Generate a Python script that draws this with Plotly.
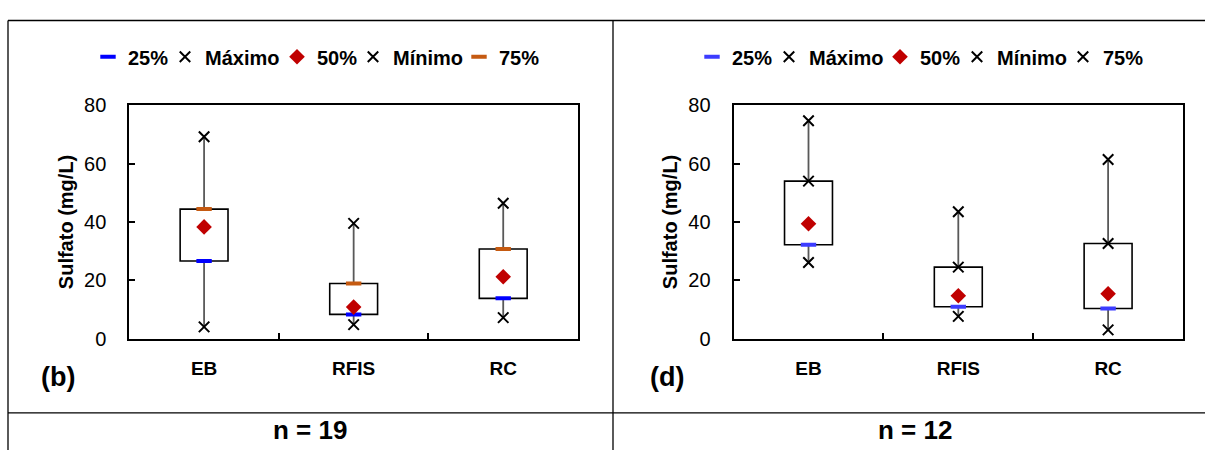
import plotly.graph_objects as go

# ---------------- data ----------------
categories = ["EB", "RFIS", "RC"]

# panel (b), n = 19
b_min = [4.0, 4.8, 7.2]
b_q25 = [26.6, 8.3, 13.8]
b_med = [38.3, 10.8, 21.2]
b_q75 = [44.4, 18.9, 30.7]
b_max = [69.2, 39.5, 46.4]

# panel (d), n = 12
d_min = [26.1, 7.6, 3.0]
d_q25 = [32.2, 10.9, 10.3]
d_med = [39.4, 14.7, 15.4]
d_q75 = [54.0, 24.5, 32.6]
d_max = [74.7, 43.5, 61.4]

series_names = ["25%", "Máximo", "50%", "Mínimo", "75%"]
panel_labels = ["(b)", "(d)"]
n_labels = ["n = 19", "n = 12"]
y_title = "Sulfato (mg/L)"
y_ticks = [0, 20, 40, 60, 80]

# ---------------- style ----------------
W, H = 1205, 461
ARIAL = "Liberation Sans, Arial, sans-serif"
BLUE_B = "#0000FF"
BLUE_D = "#3C3CFF"
ORANGE = "#C55A11"
RED = "#C00000"
GRAY = "#595959"

# legend key centres (px) for each panel
legend_keys_b = [109, 186, 298, 374, 480]
legend_keys_d = [713, 790, 901, 978, 1084]
LEGEND_Y = 48


def px(x):
    return x / W


def py(y):
    return 1 - y / H


fig = go.Figure()
legend_layout = {}
legend_counter = [0]


def next_legend(key_x):
    legend_counter[0] += 1
    k = legend_counter[0]
    name = "legend" if k == 1 else f"legend{k}"
    legend_layout[name] = dict(
        x=px(key_x - 21), y=py(LEGEND_Y), xanchor="left", yanchor="middle",
        orientation="h", bgcolor="rgba(0,0,0,0)", borderwidth=0,
        font=dict(family=ARIAL, size=20, color="black", weight="bold"),
        itemclick=False, itemdoubleclick=False)
    return name


X_MARK = dict(symbol="x-thin", size=10.5, line=dict(color="black", width=2))


def add_panel(xa, ya, keys, mn, q25, med, q75, mx, blue, q75_style):
    fig.add_trace(go.Bar(
        x=categories, y=[b - a for a, b in zip(q25, q75)], base=q25,
        width=0.32, marker=dict(color="white", line=dict(color="black", width=1.6)),
        xaxis=xa, yaxis=ya, showlegend=False, hoverinfo="skip"))
    wx, wy = [], []
    for c, a, b, c2, d in zip(categories, mn, q25, q75, mx):
        wx += [c, c, None, c, c, None]
        wy += [a, b, None, c2, d, None]
    fig.add_trace(go.Scatter(
        x=wx, y=wy, mode="lines", line=dict(color=GRAY, width=1.8),
        xaxis=xa, yaxis=ya, showlegend=False, hoverinfo="skip"))
    if q75_style == "dash":
        m75 = dict(symbol="line-ew", size=11, line=dict(color=ORANGE, width=4))
    else:
        m75 = X_MARK
    specs = [
        (q25, dict(symbol="line-ew", size=11, line=dict(color=blue, width=4))),
        (mx, X_MARK),
        (med, dict(symbol="diamond", size=12, color=RED)),
        (mn, X_MARK),
        (q75, m75),
    ]
    for name, (vals, mk), kx in zip(series_names, specs, keys):
        fig.add_trace(go.Scatter(
            x=categories, y=vals, name=name, mode="markers", marker=mk,
            xaxis=xa, yaxis=ya, legend=next_legend(kx)))


add_panel("x", "y", legend_keys_b, b_min, b_q25, b_med, b_q75, b_max, BLUE_B, "dash")
add_panel("x2", "y2", legend_keys_d, d_min, d_q25, d_med, d_q75, d_max, BLUE_D, "x")

ydom = [py(344), py(99)]
xaxis_common = dict(
    type="category", range=[-0.5, 2.5], showline=True, linecolor="black", linewidth=2,
    mirror=True, ticks="inside", tickson="boundaries", ticklen=6, tickcolor="black",
    tickwidth=1.5, showgrid=False, zeroline=False,
    tickfont=dict(family=ARIAL, size=19, color="black", weight="bold"),
    ticklabelstandoff=12, fixedrange=True)
yaxis_common = dict(
    range=[0, 80], tickvals=y_ticks, showline=True, linecolor="black", linewidth=2,
    mirror=True, ticks="inside", ticklen=6, tickcolor="black", tickwidth=1.5,
    showgrid=False, zeroline=False,
    tickfont=dict(family=ARIAL, size=20, color="black"),
    ticklabelstandoff=17, fixedrange=True,
    title=dict(text=y_title, font=dict(family=ARIAL, size=20, color="black", weight="bold"),
               standoff=5))

fig.update_layout(
    width=W, height=H, margin=dict(l=0, r=0, t=0, b=0),
    paper_bgcolor="white", plot_bgcolor="white", barmode="overlay",
    xaxis=dict(domain=[px(129.3), px(578)], anchor="y", **xaxis_common),
    yaxis=dict(domain=ydom, anchor="x", **yaxis_common),
    xaxis2=dict(domain=[px(733.6), px(1183)], anchor="y2", **xaxis_common),
    yaxis2=dict(domain=ydom, anchor="x2", **yaxis_common),
    showlegend=True,
    **legend_layout,
)

line = dict(color="black", width=1.3)
for x0, y0, x1, y1 in [(8, 10, W, 10), (8, 422, W, 422), (8, 10, 8, H), (613, 10, 613, H)]:
    fig.add_shape(type="line", xref="paper", yref="paper",
                  x0=px(x0), y0=py(y0), x1=px(x1), y1=py(y1), line=line)

for txt, cx in zip(panel_labels, [58, 667]):
    fig.add_annotation(text=txt, xref="paper", yref="paper", x=px(cx), y=py(384),
                       showarrow=False, xanchor="center", yanchor="middle",
                       font=dict(family=ARIAL, size=27, color="black", weight="bold"))
for txt, cx in zip(n_labels, [310, 915]):
    fig.add_annotation(text=txt, xref="paper", yref="paper", x=px(cx), y=py(440),
                       showarrow=False, xanchor="center", yanchor="middle",
                       font=dict(family=ARIAL, size=26, color="black", weight="bold"))

fig.write_html(
    "out.html",
    config={"displayModeBar": False, "staticPlot": False},
    post_script="document.body.style.margin='0';document.body.style.overflow='hidden';",
)
